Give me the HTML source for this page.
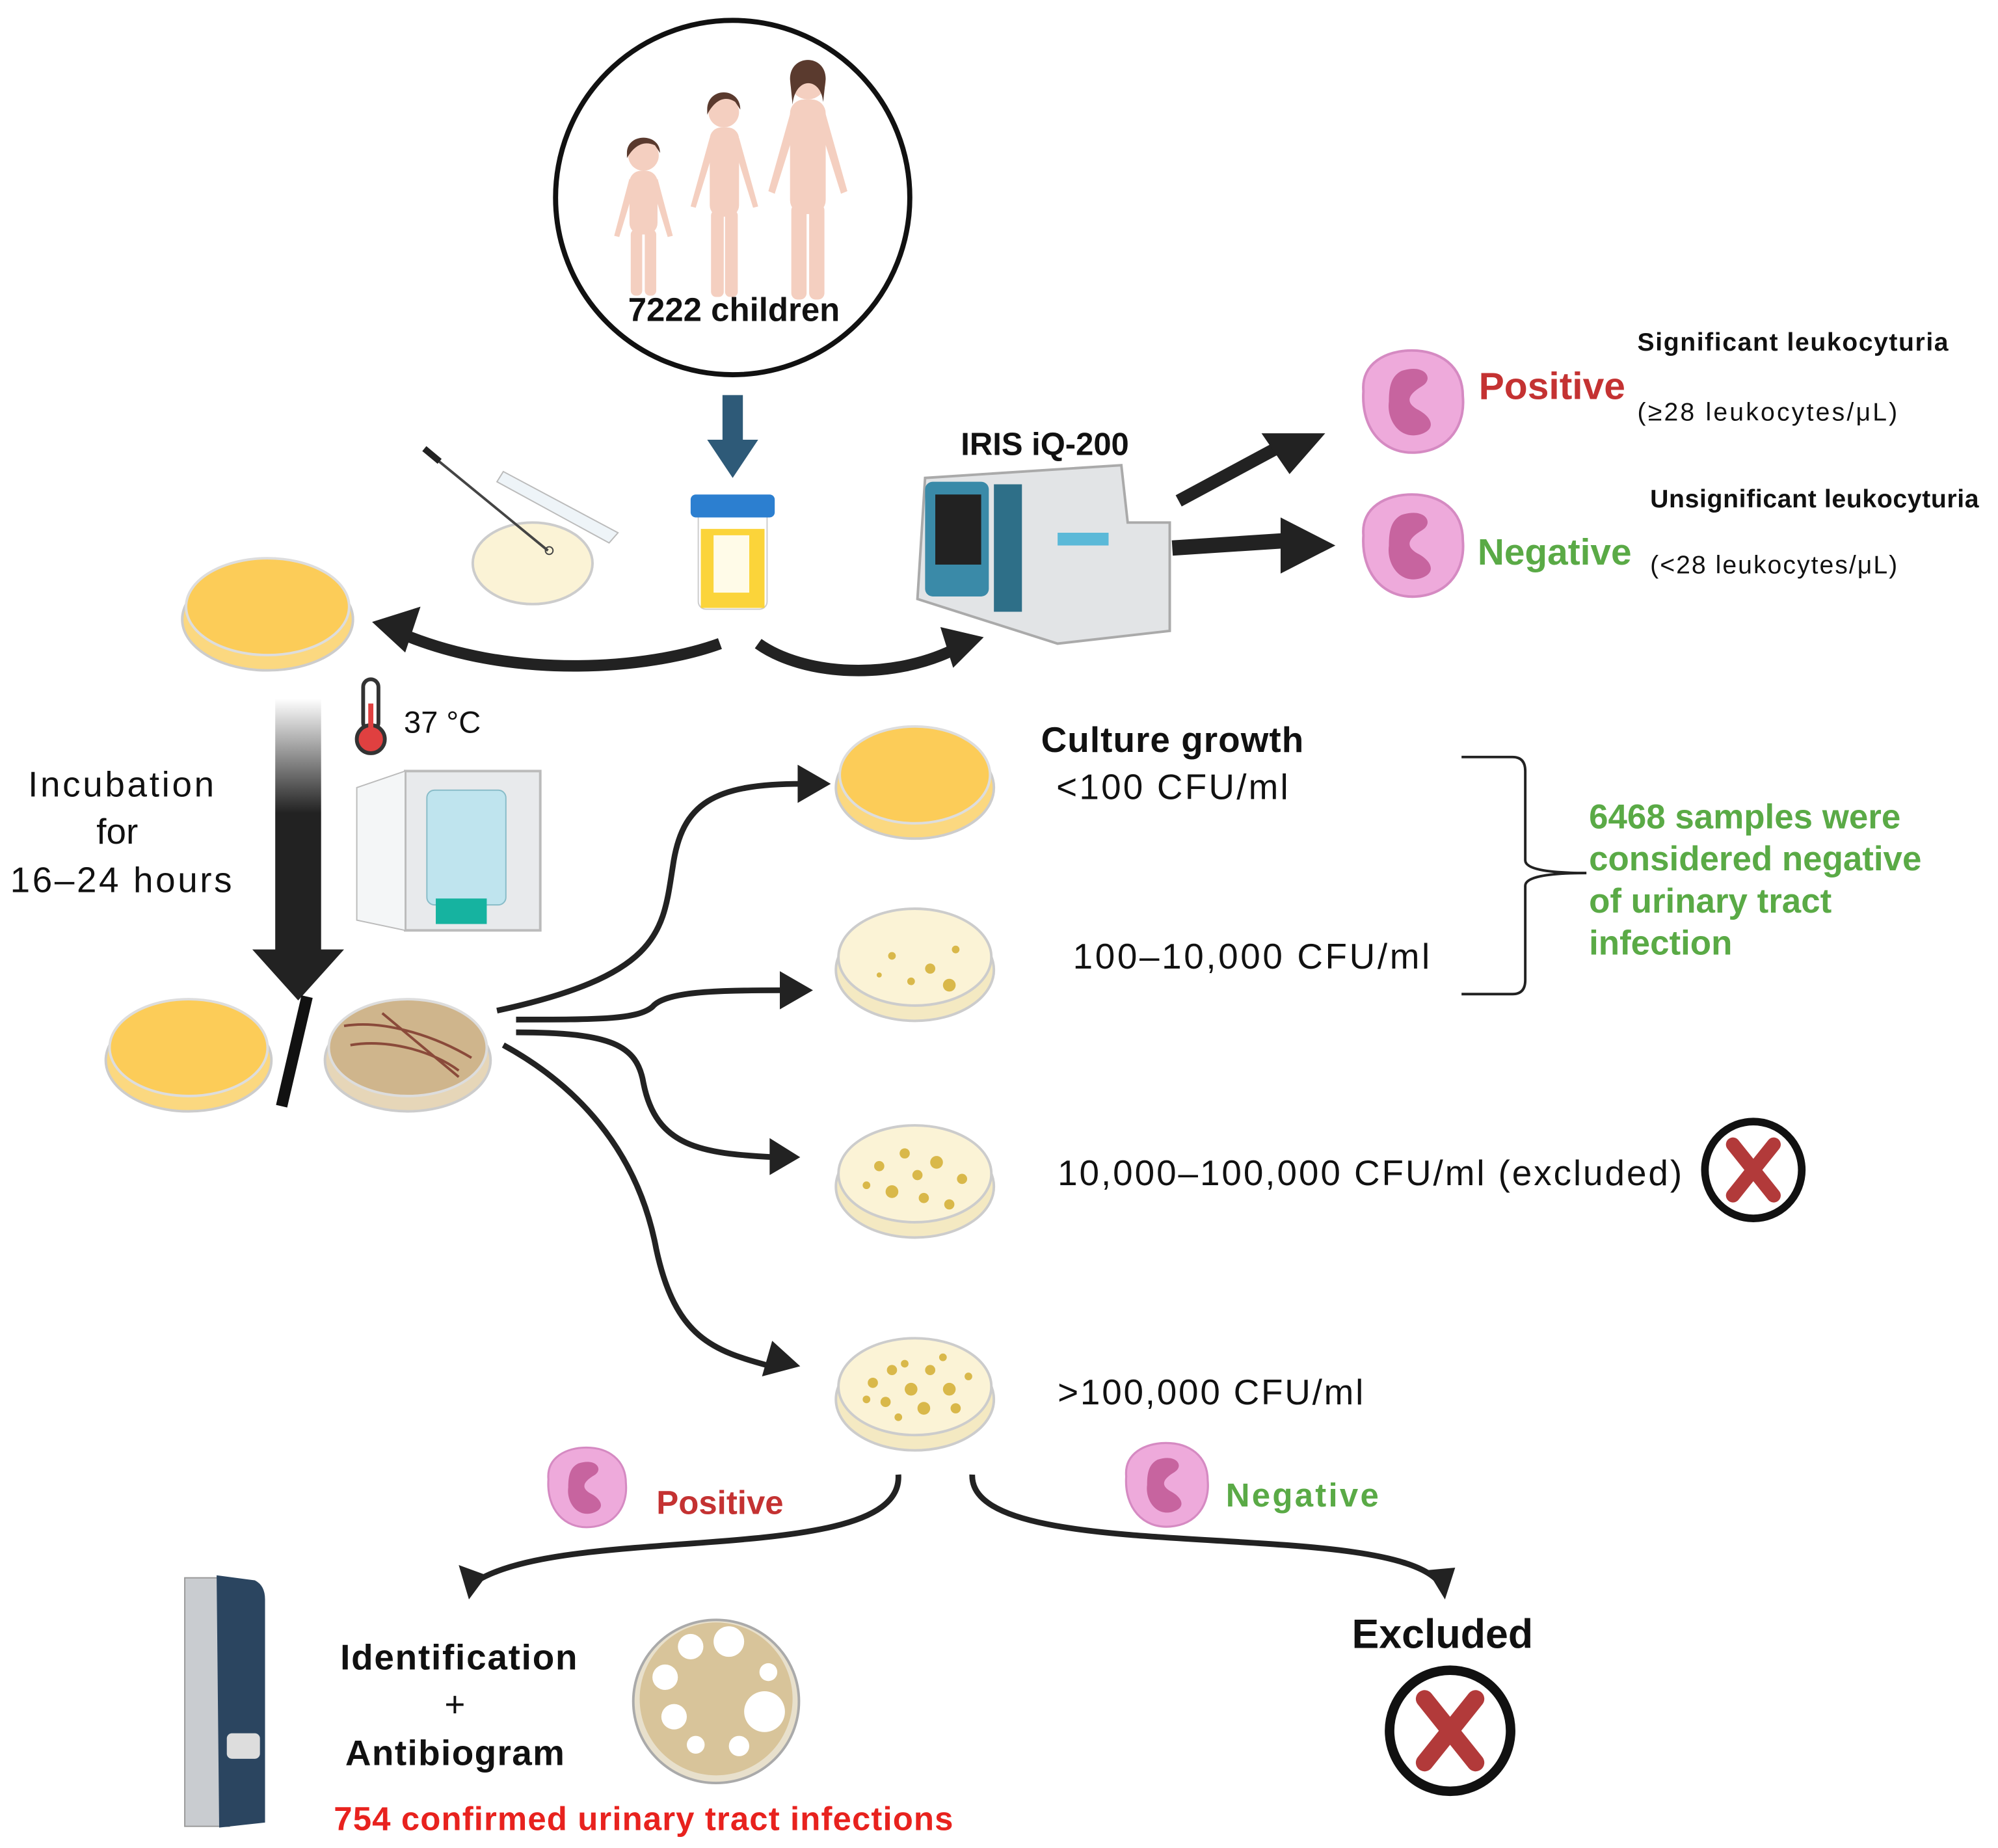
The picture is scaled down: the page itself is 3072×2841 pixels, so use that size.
<!DOCTYPE html>
<html><head><meta charset="utf-8"><style>
html,body{margin:0;padding:0;background:#fff}
svg{display:block}
text{font-family:"Liberation Sans",Arial,sans-serif}
</style></head><body>
<svg width="3072" height="2841" viewBox="0 0 1568 1450" preserveAspectRatio="none" xmlns="http://www.w3.org/2000/svg">
<defs>
<linearGradient id="g1" x1="0" y1="0" x2="0" y2="1"><stop offset="0" stop-color="#fff"/><stop offset="0.45" stop-color="#222"/><stop offset="1" stop-color="#222"/></linearGradient>
<g id="cell"><path d="M-38,-8 C-40,-30 -20,-40 0,-40 C22,-40 40,-28 40,-4 C42,18 30,38 4,40 C-22,42 -40,22 -38,-8Z" fill="#eeaadb" stroke="#d58ac2" stroke-width="2"/><path d="M-8,-24 C10,-30 18,-18 8,-12 C-2,-6 -6,0 4,6 C16,12 20,22 6,26 C-10,30 -20,14 -18,0 C-18,-12 -16,-20 -8,-24Z" fill="#c7649f"/></g>
<g id="dish"><ellipse cx="0" cy="6" rx="62" ry="40" fill="#f4e9c2" stroke="#ccc" stroke-width="2"/><ellipse cx="0" cy="-4" rx="60" ry="38" fill="#fbf3d6" stroke="#ccc" stroke-width="2"/></g>
<g id="xc"><circle r="38" fill="#fff" stroke="#111" stroke-width="6"/><path d="M-16,-20 L16,20 M16,-20 L-16,20" stroke="#b23a3a" stroke-width="11" stroke-linecap="round"/></g>
</defs>

<circle cx="575" cy="155" r="139" fill="#fff" stroke="#111" stroke-width="4"/>
<g fill="#f4cfc0">
<circle cx="505" cy="122" r="12"/><rect x="494" y="134" width="22" height="50" rx="9"/><rect x="495" y="180" width="9" height="52" rx="4"/><rect x="506" y="180" width="9" height="52" rx="4"/><path d="M494,140 L482,185 L486,186 L497,150Z M516,140 L528,185 L524,186 L513,150Z"/>
<circle cx="568" cy="88" r="12"/><rect x="557" y="100" width="23" height="70" rx="9"/><rect x="558" y="165" width="10" height="68" rx="4"/><rect x="569" y="165" width="10" height="68" rx="4"/><path d="M557,108 L542,162 L546,163 L560,118Z M580,108 L595,162 L591,163 L577,118Z"/>
<circle cx="634" cy="64" r="14"/><rect x="620" y="78" width="28" height="90" rx="11"/><rect x="621" y="160" width="12" height="75" rx="5"/><rect x="635" y="160" width="12" height="75" rx="5"/><path d="M621,86 L603,150 L608,152 L625,98Z M647,86 L665,150 L660,152 L643,98Z"/>
</g>
<g fill="#5a3a2e"><path d="M492,120 C492,104 518,104 518,120 L514,114 C505,110 498,114 492,124Z"/><path d="M555,86 C555,68 581,68 581,86 L577,80 C568,74 560,80 555,90Z"/><path d="M620,62 C620,42 648,42 648,62 L646,80 C644,60 624,60 622,82Z"/></g>
<text x="576" y="252" font-size="26" font-weight="bold" text-anchor="middle" fill="#111">7222 children</text>

<rect x="567" y="310" width="16" height="38" fill="#2e5a78"/><path d="M555,345 L595,345 L575,375Z" fill="#2e5a78"/>

<rect x="548" y="400" width="54" height="78" rx="6" fill="#fff" stroke="#ccc"/>
<rect x="550" y="415" width="50" height="62" fill="#fbd43a"/><rect x="560" y="420" width="28" height="45" fill="#fffbe8"/>
<rect x="542" y="388" width="66" height="18" rx="4" fill="#2c7fd0"/>

<ellipse cx="418" cy="442" rx="47" ry="32" fill="#fbf3d6" stroke="#ccc" stroke-width="2"/>
<path d="M395,370 L485,418 L478,426 L390,378Z" fill="#eef4f8" stroke="#bbb"/>
<line x1="336" y1="355" x2="430" y2="432" stroke="#444" stroke-width="2"/><line x1="333" y1="352" x2="345" y2="362" stroke="#222" stroke-width="5"/>
<circle cx="431" cy="432" r="3" fill="none" stroke="#444"/>

<ellipse cx="210" cy="486" rx="67" ry="40" fill="#fbd880" stroke="#ccc" stroke-width="2"/>
<ellipse cx="210" cy="476" rx="64" ry="38" fill="#fccc58" stroke="#ddd" stroke-width="2"/>

<path d="M565,505 C510,525 400,535 310,495" stroke="#222" stroke-width="9" fill="none"/>
<path d="M292,488 L330,476 L318,512Z" fill="#222"/>
<path d="M595,505 C630,530 700,535 752,508" stroke="#222" stroke-width="9" fill="none"/>
<path d="M772,500 L738,492 L748,524Z" fill="#222"/>

<text x="820" y="357" font-size="25" font-weight="bold" text-anchor="middle" fill="#111">IRIS iQ-200</text>
<path d="M726,375 L880,365 L885,410 L918,410 L918,495 L830,505 L720,470Z" fill="#e2e4e6" stroke="#aaa" stroke-width="2"/>
<rect x="726" y="378" width="50" height="90" rx="6" fill="#3a8aa8"/><rect x="734" y="388" width="36" height="55" fill="#222"/>
<rect x="780" y="380" width="22" height="100" fill="#2e6f88"/><rect x="830" y="418" width="40" height="10" fill="#5bb9d8"/>

<path d="M925,393 L1005,350" stroke="#222" stroke-width="10"/><path d="M1040,340 L990,340 L1012,372Z" fill="#222"/>
<path d="M920,430 L1012,424" stroke="#222" stroke-width="12"/><path d="M1048,428 L1005,406 L1005,450Z" fill="#222"/>
<use href="#cell" x="1108" y="315"/><use href="#cell" x="1108" y="428"/>
<text x="1218" y="313" font-size="30" font-weight="bold" text-anchor="middle" fill="#c43232">Positive</text>
<text x="1220" y="443" font-size="29" font-weight="bold" text-anchor="middle" fill="#5aaa46">Negative</text>
<text x="1285" y="275" font-size="20" font-weight="bold" fill="#111" textLength="244">Significant leukocyturia</text>
<text x="1285" y="330" font-size="20" fill="#111" textLength="204">(≥28 leukocytes/μL)</text>
<text x="1295" y="398" font-size="20" font-weight="bold" fill="#111" textLength="258">Unsignificant leukocyturia</text>
<text x="1295" y="450" font-size="20" fill="#111" textLength="194">(&lt;28 leukocytes/μL)</text>

<rect x="216" y="548" width="36" height="200" fill="url(#g1)"/><path d="M198,745 L270,745 L234,785Z" fill="#222"/>
<rect x="285" y="533" width="12" height="40" rx="6" fill="#fff" stroke="#333" stroke-width="3"/><circle cx="291" cy="580" r="11" fill="#e04040" stroke="#333" stroke-width="3"/><rect x="289" y="552" width="4" height="22" fill="#e04040"/>
<text x="317" y="575" font-size="24" fill="#111">37 °C</text>
<rect x="318" y="605" width="106" height="125" fill="#e8eaec" stroke="#bbb" stroke-width="2"/>
<rect x="335" y="620" width="62" height="90" rx="6" fill="#bfe4ee" stroke="#88bcc8"/>
<path d="M280,618 L318,605 L318,730 L280,722Z" fill="#f4f6f7" stroke="#bbb"/>
<rect x="342" y="705" width="40" height="20" fill="#16b3a0"/>
<text x="95" y="625" font-size="28" text-anchor="middle" fill="#111" textLength="146">Incubation</text>
<text x="92" y="662" font-size="28" text-anchor="middle" fill="#111">for</text>
<text x="95" y="700" font-size="28" text-anchor="middle" fill="#111" textLength="174">16–24 hours</text>

<ellipse cx="148" cy="832" rx="65" ry="40" fill="#fbd880" stroke="#ccc" stroke-width="2"/>
<ellipse cx="148" cy="822" rx="62" ry="38" fill="#fccc58" stroke="#ddd" stroke-width="2"/>
<ellipse cx="320" cy="832" rx="65" ry="40" fill="#e6d6b8" stroke="#ccc" stroke-width="2"/>
<ellipse cx="320" cy="822" rx="62" ry="38" fill="#cfb58c" stroke="#ddd" stroke-width="2"/>
<path d="M270,805 C300,800 340,812 370,830 M275,820 C305,815 340,825 360,840 M300,795 L360,845" stroke="#8a4a3a" stroke-width="2" fill="none"/>
<line x1="241" y1="782" x2="221" y2="868" stroke="#111" stroke-width="9"/>

<g stroke="#222" stroke-width="4.5" fill="none">
<path d="M390,793 C520,765 520,730 528,680 C535,630 560,615 630,615"/>
<path d="M405,800 C470,800 500,800 512,790 C522,778 560,777 615,777"/>
<path d="M405,810 C480,810 500,820 505,850 C515,900 550,905 608,908"/>
<path d="M395,820 C450,850 500,900 515,980 C530,1050 560,1060 605,1072"/>
<path d="M705,1157 C710,1230 450,1195 375,1240"/>
<path d="M763,1157 C760,1230 1080,1190 1128,1240"/>
</g>
<g fill="#222">
<path d="M652,615 L626,600 L626,630Z"/><path d="M638,777 L612,762 L612,792Z"/>
<path d="M628,908 L604,893 L604,922Z"/><path d="M628,1072 L606,1052 L598,1080Z"/>
<path d="M368,1255 L360,1228 L382,1236Z"/><path d="M1134,1255 L1120,1232 L1142,1230Z"/>
</g>

<ellipse cx="718" cy="618" rx="62" ry="40" fill="#fbd880" stroke="#ccc" stroke-width="2"/>
<ellipse cx="718" cy="608" rx="59" ry="38" fill="#fccc58" stroke="#ddd" stroke-width="2"/>
<use href="#dish" x="718" y="755"/><use href="#dish" x="718" y="925"/><use href="#dish" x="718" y="1092"/>
<g fill="#d9b84a">
<circle cx="700" cy="750" r="3"/><circle cx="730" cy="760" r="4"/><circle cx="750" cy="745" r="3"/><circle cx="715" cy="770" r="3"/><circle cx="745" cy="773" r="5"/><circle cx="690" cy="765" r="2"/>
<circle cx="690" cy="915" r="4"/><circle cx="710" cy="905" r="4"/><circle cx="735" cy="912" r="5"/><circle cx="755" cy="925" r="4"/><circle cx="700" cy="935" r="5"/><circle cx="725" cy="940" r="4"/><circle cx="745" cy="945" r="4"/><circle cx="680" cy="930" r="3"/><circle cx="720" cy="922" r="4"/>
<circle cx="685" cy="1085" r="4"/><circle cx="700" cy="1075" r="4"/><circle cx="715" cy="1090" r="5"/><circle cx="730" cy="1075" r="4"/><circle cx="745" cy="1090" r="5"/><circle cx="760" cy="1080" r="3"/><circle cx="695" cy="1100" r="4"/><circle cx="725" cy="1105" r="5"/><circle cx="750" cy="1105" r="4"/><circle cx="710" cy="1070" r="3"/><circle cx="740" cy="1065" r="3"/><circle cx="680" cy="1098" r="3"/><circle cx="705" cy="1112" r="3"/>
</g>
<text x="920" y="590" font-size="28" font-weight="bold" text-anchor="middle" fill="#111" textLength="206">Culture growth</text>
<text x="920" y="627" font-size="28" text-anchor="middle" fill="#111" textLength="182">&lt;100 CFU/ml</text>
<text x="982" y="760" font-size="28" text-anchor="middle" fill="#111" textLength="280">100–10,000 CFU/ml</text>
<text x="1075" y="930" font-size="28" text-anchor="middle" fill="#111" textLength="490">10,000–100,000 CFU/ml (excluded)</text>
<text x="950" y="1102" font-size="28" text-anchor="middle" fill="#111" textLength="240">&gt;100,000 CFU/ml</text>

<path d="M1147,594 L1187,594 Q1197,594 1197,605 L1197,675 Q1197,685 1245,685 Q1197,685 1197,695 L1197,769 Q1197,780 1187,780 L1147,780" stroke="#222" stroke-width="2" fill="none"/>
<g font-size="27" font-weight="bold" fill="#5aaa46">
<text x="1247" y="650">6468 samples were</text><text x="1247" y="683">considered negative</text><text x="1247" y="716">of urinary tract</text><text x="1247" y="749">infection</text>
</g>
<use href="#xc" x="1376" y="918"/>

<use href="#cell" transform="translate(460,1167) scale(0.78)"/><use href="#cell" transform="translate(915,1165) scale(0.82)"/>
<text x="565" y="1188" font-size="26" font-weight="bold" text-anchor="middle" fill="#c43232">Positive</text>
<text x="1022" y="1182" font-size="26" font-weight="bold" text-anchor="middle" fill="#5aaa46" textLength="120">Negative</text>

<rect x="145" y="1238" width="35" height="195" fill="#c9ccd0" stroke="#999"/>
<path d="M170,1236 L200,1240 Q208,1244 208,1255 L208,1430 L172,1434Z" fill="#2b4560"/>
<rect x="178" y="1360" width="26" height="20" rx="4" fill="#ddd"/>

<text x="360" y="1310" font-size="28" font-weight="bold" text-anchor="middle" fill="#111" textLength="186">Identification</text>
<text x="357" y="1347" font-size="28" text-anchor="middle" fill="#111">+</text>
<text x="357" y="1385" font-size="28" font-weight="bold" text-anchor="middle" fill="#111" textLength="172">Antibiogram</text>

<ellipse cx="562" cy="1335" rx="65" ry="64" fill="#e8e0cc" stroke="#aaa" stroke-width="2"/>
<ellipse cx="562" cy="1333" rx="60" ry="60" fill="#d8c49a"/>
<g fill="#fff"><circle cx="542" cy="1292" r="10"/><circle cx="572" cy="1288" r="12"/><circle cx="603" cy="1312" r="7"/><circle cx="522" cy="1316" r="10"/><circle cx="600" cy="1343" r="16"/><circle cx="529" cy="1347" r="10"/><circle cx="546" cy="1369" r="7"/><circle cx="580" cy="1370" r="8"/></g>

<text x="505" y="1436" font-size="26" font-weight="bold" text-anchor="middle" fill="#e8221e" textLength="486">754 confirmed urinary tract infections</text>
<text x="1132" y="1293" font-size="32" font-weight="bold" text-anchor="middle" fill="#111">Excluded</text>
<use href="#xc" transform="translate(1138,1358) scale(1.25)"/>
</svg>
</body></html>
